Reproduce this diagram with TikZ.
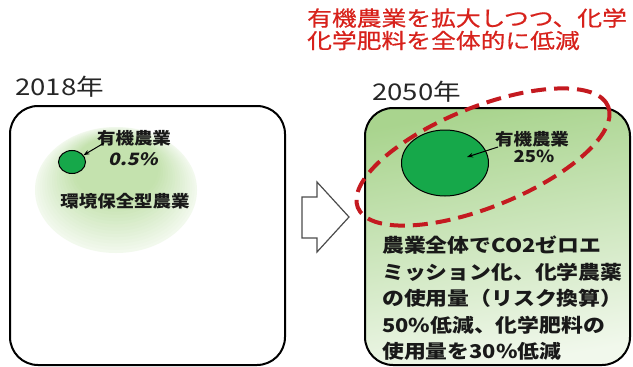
\documentclass[tikz,border=0pt]{standalone}
\usepackage{fontspec}
\usetikzlibrary{arrows.meta,shapes.geometric}
\newfontfamily\yearfont[FakeStretch=1.2]{Noto Sans CJK JP}
\newfontfamily\titlefont[FakeStretch=1.18,FakeBold=0.6]{Noto Sans CJK JP}
\newfontfamily\bodyfont[FakeStretch=1.15]{Noto Sans CJK JP}
\newfontfamily\labelfont[FakeStretch=1.12]{Noto Sans CJK JP}
\newfontfamily\slantfont[FakeStretch=1.15,FakeSlant=0.2]{Noto Sans CJK JP}
\definecolor{tred}{HTML}{D7221C}
\definecolor{dred}{HTML}{C41A20}
\definecolor{dotgreen}{HTML}{16A84A}
\definecolor{boxtop}{HTML}{A9D48E}
\definecolor{boxmid}{HTML}{D3EAC4}
\definecolor{boxbot}{HTML}{F1F8EC}
\definecolor{lgA}{HTML}{C4E2AE}
\tikzset{
  panel/.style={line width=2pt, rounded corners=28pt},
  yearlbl/.style={anchor=base west, inner sep=0pt, text=black!85, font=\yearfont\fontsize{23}{23}\selectfont},
  titlelbl/.style={anchor=base west, inner sep=0pt, text=tred, font=\titlefont\fontsize{21}{21}\selectfont},
  boldlbl/.style={inner sep=0pt, text=black!90, font=\labelfont\bfseries\fontsize{16.5}{16.5}\selectfont},
  dot/.style={draw=black, line width=1pt, fill=dotgreen, ellipse, inner sep=0pt},
  pointer/.style={-{Stealth[length=6pt,width=4.5pt]}, line width=1pt, black},
}
\begin{document}
\begin{tikzpicture}[x=1pt,y=-1pt]
\useasboundingbox (0,0) rectangle (633,367);
% left panel
\fill[white, panel] (10,106) rectangle (285,365);
\foreach \i in {0,...,22}{
  \pgfmathsetmacro{\f}{1-\i*0.03}
  \pgfmathsetmacro{\c}{min(100,22+\i*5)}
  \pgfmathsetmacro{\cy}{190-\i*1.3}
  \fill[lgA!\c!white] (116,\cy) ellipse ({81*\f} and {63*\f});
}
\draw[panel] (10,106) rectangle (285,365);
% right panel
\shade[panel, top color=boxtop, middle color=boxmid, bottom color=boxbot, shading angle=10] (365,108) rectangle (630,365);
\draw[panel] (365,108) rectangle (630,365);
% block arrow
\draw[line width=1.2pt, black!70, fill=white, line join=miter] (302,197) -- (317,197) -- (317,182) -- (349,217) -- (317,252) -- (317,238) -- (302,238) -- cycle;
% circles
\node[dot, minimum width=27pt, minimum height=23pt] (c1) at (72,162) {};
\node[dot, minimum width=87pt, minimum height=66pt] (c2) at (445,163) {};
\coordinate (c2tip) at (467,157);
% dashed ellipse
\draw[dred, line width=4pt, dash pattern=on 15pt off 8pt, rotate around={22:(483,157)}] (483,157) ellipse (135 and 50);
% years
\node[yearlbl] (y1) at (15,95) {2018年};
\node[yearlbl] (y2) at (372,100) {2050年};
% title
\node[titlelbl] (t1) at (307,26) {有機農業を拡大しつつ、化学};
\node[titlelbl] (t2) at (307,48.5) {化学肥料を全体的に低減};
% left labels
\node[boldlbl] (l1) at (134,138) {有機農業};
\node[inner sep=0pt, text=black!90, font=\slantfont\bfseries\fontsize{17}{17}\selectfont] (p1) at (133,159) {0.5\%};
\node[boldlbl] (l2) at (125,201) {環境保全型農業};
\coordinate (a1) at (104,143);
\draw[pointer] (a1) -- (c1);
% right labels
\node[boldlbl] (l3) at (532,139) {有機農業};
\node[boldlbl] (p2) at (534,156) {25\%};
\coordinate (a2) at (498,147);
\draw[pointer] (a2) -- (c2tip);
% body text
\node[anchor=north west, inner sep=0pt, align=left, text=black!90, font=\bodyfont\bfseries\fontsize{19}{26.5}\selectfont] (body) at (382,236) {農業全体でCO2ゼロエ\\ミッション化、化学農薬\\の使用量（リスク換算）\\50\%低減、化学肥料の\\使用量を30\%低減};
\end{tikzpicture}
\end{document}
